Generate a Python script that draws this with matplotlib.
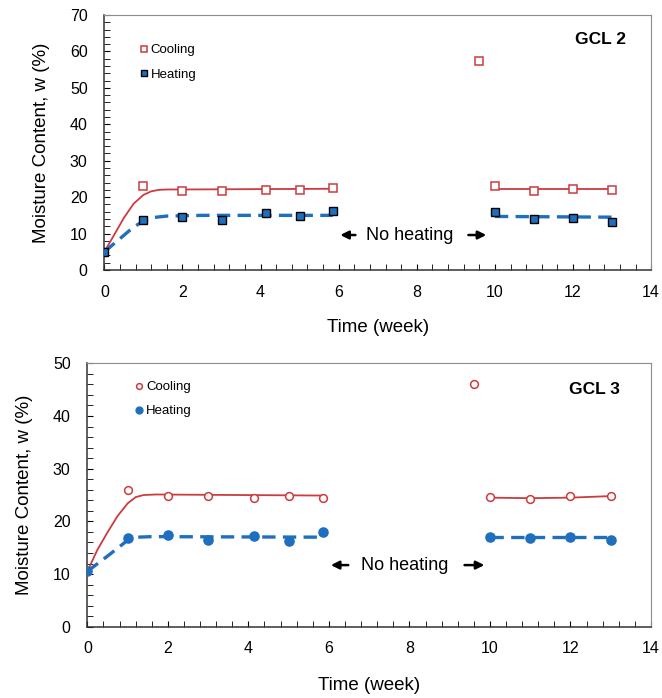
import numpy as np
import matplotlib
matplotlib.use("Agg")
import matplotlib.pyplot as plt
from matplotlib.ticker import MultipleLocator

plt.rcParams['font.family'] = ['Liberation Sans', 'DejaVu Sans']

RED = "#cc3b3e"
BLUE = "#1f6fbf"

#GCL 2 measurements
t_cool_2 = [1, 2, 3, 4.15, 5, 5.85, 9.6, 10, 11, 12, 13]
w_cool_2 = [23.0, 21.8, 21.7, 22.0, 21.9, 22.6, 57.5, 23.0, 21.7, 22.2, 22.0]
t_heat_2 = [0, 1, 2, 3, 4.15, 5, 5.85, 10, 11, 12, 13]
w_heat_2 = [5.0, 13.8, 14.6, 13.6, 15.6, 14.8, 16.3, 16.0, 14.1, 14.4, 13.3]

#GCL 2 trend lines
fit_t_cool_2a = [0, 0.25, 0.5, 0.75, 1.0, 1.2, 1.4, 1.6, 2.0, 5.85]
fit_w_cool_2a = [5.0, 9.6, 14.3, 18.2, 20.6, 21.6, 22.0, 22.1, 22.1, 22.3]
fit_t_cool_2b = [10, 13]
fit_w_cool_2b = [22.1, 22.1]
fit_t_heat_2a = [0, 0.4, 0.75, 1.0, 1.25, 1.6, 2.5, 5.85]
fit_w_heat_2a = [5.0, 8.6, 11.8, 13.4, 14.4, 14.8, 15.0, 15.0]
fit_t_heat_2b = [10, 13]
fit_w_heat_2b = [14.7, 14.5]

#GCL 3 measurements
t_cool_3 = [1, 2, 3, 4.15, 5, 5.85, 9.6, 10, 11, 12, 13]
w_cool_3 = [26.0, 24.8, 24.8, 24.5, 24.8, 24.5, 46.0, 24.6, 24.2, 24.9, 24.9]
t_heat_3 = [0, 1, 2, 3, 4.15, 5, 5.85, 10, 11, 12, 13]
w_heat_3 = [10.5, 16.8, 17.5, 16.5, 17.2, 16.3, 18.0, 17.0, 16.8, 17.0, 16.5]

#GCL 3 trend lines
fit_t_cool_3a = [0, 0.25, 0.5, 0.75, 1.0, 1.2, 1.4, 1.7, 5.85]
fit_w_cool_3a = [10.5, 14.6, 17.9, 21.0, 23.4, 24.6, 25.0, 25.1, 24.9]
fit_t_cool_3b = [10, 11, 12, 13]
fit_w_cool_3b = [24.5, 24.4, 24.5, 24.8]
fit_t_heat_3a = [0, 0.5, 1.0, 1.25, 1.6, 5.85]
fit_w_heat_3a = [10.5, 13.4, 16.4, 17.0, 17.1, 17.0]
fit_t_heat_3b = [10, 13]
fit_w_heat_3b = [17.0, 17.0]


def draw_panel(ax, marker, heat_edge, cool, heat, fits, ymax, label, label_xy, leg_xy, noheat, xlabpad):
	#trend lines
	(fc_a, fc_b, fh_a, fh_b) = fits
	for t, w in (fc_a, fc_b):
		ax.plot(t, w, color=RED, lw=1.3, zorder=2)
	for t, w in (fh_a, fh_b):
		ax.plot(t, w, color=BLUE, lw=2.4, ls=(0, (4, 2.2)), zorder=4)
	#markers
	ms_c, ms_h = (6.0, 6.3) if marker == "s" else (5.6, 6.6)
	ax.plot(cool[0], cool[1], ls="none", marker=marker, ms=ms_c, mfc="white",
		mec=RED, mew=1.1, label="Cooling", zorder=3)
	ax.plot(heat[0], heat[1], ls="none", marker=marker, ms=ms_h, mfc=BLUE,
		mec=heat_edge, mew=1.0, label="Heating", zorder=5)

	ax.set_xlim(0, 14)
	ax.set_ylim(0, ymax)
	ax.xaxis.set_major_locator(MultipleLocator(2))
	ax.xaxis.set_minor_locator(MultipleLocator(0.4))
	ax.yaxis.set_major_locator(MultipleLocator(10))
	ax.yaxis.set_minor_locator(MultipleLocator(2))
	ax.tick_params(which="both", direction="in", top=False, right=False, labelsize=11.5, length=4)
	ax.tick_params(axis="x", pad=10.5)
	ax.tick_params(axis="y", pad=12)
	for s in ("top", "right"):
		ax.spines[s].set_color("#8c8c8c")
	for s in ("left", "bottom"):
		ax.spines[s].set_color("#333333")
		ax.spines[s].set_linewidth(1.1)

	ax.set_xlabel("Time (week)", fontsize=13.5, labelpad=xlabpad)
	ax.set_ylabel("Moisture Content, w (%)", fontsize=13.5, labelpad=14.5)

	ax.legend(loc="center left", bbox_to_anchor=leg_xy, frameon=False, borderpad=0,
		borderaxespad=0, fontsize=9.5, handletextpad=0.1, handlelength=0.8,
		labelspacing=0.9, markerscale=0.75)
	ax.text(label_xy[0], label_xy[1], label, transform=ax.transAxes, ha="right", va="center",
		fontsize=12.5, fontweight="bold")

	#no heating marker
	(tx, y, a0, a1, b0, b1) = noheat
	ax.text(tx, y, "No heating", ha="center", va="center", fontsize=13)
	ax.annotate("", xy=(a0, y), xytext=(a1, y),
		arrowprops=dict(arrowstyle="-|>", color="black", lw=1.8, mutation_scale=12))
	ax.annotate("", xy=(b1, y), xytext=(b0, y),
		arrowprops=dict(arrowstyle="-|>", color="black", lw=1.8, mutation_scale=12))


fig = plt.figure(figsize=(6.62, 6.98), dpi=100)
ax1 = fig.add_axes([0.1576, 0.6132, 0.826, 0.3653])
ax2 = fig.add_axes([0.1319, 0.1021, 0.8515, 0.3774])

draw_panel(ax1, "s", "black", (t_cool_2, w_cool_2), (t_heat_2, w_heat_2),
	((fit_t_cool_2a, fit_w_cool_2a), (fit_t_cool_2b, fit_w_cool_2b),
	 (fit_t_heat_2a, fit_w_heat_2a), (fit_t_heat_2b, fit_w_heat_2b)),
	70, "GCL 2", (0.954, 0.905), (0.063, 0.814), (7.83, 9.6, 5.97, 6.5, 9.25, 9.85), 14)
draw_panel(ax2, "o", BLUE, (t_cool_3, w_cool_3), (t_heat_3, w_heat_3),
	((fit_t_cool_3a, fit_w_cool_3a), (fit_t_cool_3b, fit_w_cool_3b),
	 (fit_t_heat_3a, fit_w_heat_3a), (fit_t_heat_3b, fit_w_heat_3b)),
	50, "GCL 3", (0.944, 0.899), (0.083, 0.864), (7.89, 11.7, 5.98, 6.55, 9.3, 9.93), 15)

fig.savefig("out.png", dpi=100)
